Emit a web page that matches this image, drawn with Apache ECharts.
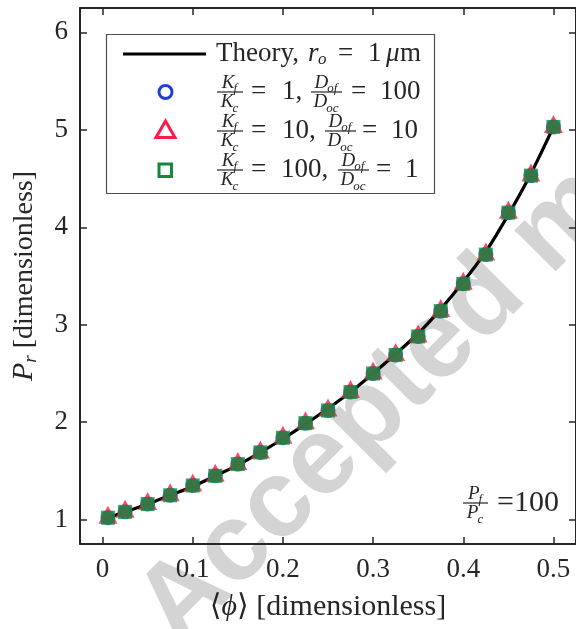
<!DOCTYPE html>
<html>
<head>
<meta charset="utf-8">
<script src="https://cdn.jsdelivr.net/npm/echarts@6/dist/echarts.min.js"></script>
<style>
  html, body { margin: 0; padding: 0; background: #fff; }
  #chart { width: 576px; height: 629px; }
</style>
</head>
<body>
<div id="chart"></div>
<script>
// simulation points (same phi for all three cases)
const phiSim = [0.006, 0.025, 0.05, 0.075, 0.1, 0.125, 0.15, 0.175, 0.2, 0.225, 0.25,
  0.275, 0.3, 0.325, 0.35, 0.375, 0.4, 0.425, 0.45, 0.475, 0.5]
const prK1 = [1.02, 1.08, 1.16, 1.25, 1.35, 1.45, 1.57, 1.69, 1.84, 1.99, 2.12,
  2.31, 2.50, 2.69, 2.88, 3.14, 3.42, 3.72, 4.15, 4.53, 5.03]
const prK10 = [1.02, 1.08, 1.16, 1.25, 1.35, 1.45, 1.57, 1.69, 1.84, 1.99, 2.12,
  2.31, 2.50, 2.69, 2.88, 3.14, 3.42, 3.72, 4.15, 4.53, 5.03]
const prK100 = [1.02, 1.08, 1.16, 1.25, 1.35, 1.45, 1.57, 1.69, 1.84, 1.99, 2.12,
  2.31, 2.50, 2.69, 2.88, 3.14, 3.42, 3.72, 4.15, 4.53, 5.03]

// theory curve
const phiTheory = [0, 0.025, 0.05, 0.075, 0.1, 0.125, 0.15, 0.175, 0.2, 0.225, 0.25,
  0.275, 0.3, 0.325, 0.35, 0.375, 0.4, 0.425, 0.45, 0.475, 0.5]
const prTheory = [1.0, 1.08, 1.16, 1.25, 1.34, 1.45, 1.56, 1.69, 1.83, 1.98, 2.14,
  2.31, 2.50, 2.70, 2.91, 3.16, 3.44, 3.75, 4.13, 4.55, 5.03]

const xTicks = [0, 0.1, 0.2, 0.3, 0.4, 0.5]
const yTicks = [1, 2, 3, 4, 5, 6]

const SERIF = '"Liberation Serif", "DejaVu Serif", serif'
const INK = '#262626'
const BLUE = '#1f3fd6'
const RED = '#ff1a4a'
const GREEN = '#128a3c'

const zip = (xs, ys) => xs.map((x, i) => [x, ys[i]])

// text helpers for the legend / annotation (math-like text)
const mctx = document.createElement('canvas').getContext('2d')
const fontOf = (size, it) => (it ? 'italic ' : '') + size + 'px ' + SERIF
const measure = (t, size, it) => { mctx.font = fontOf(size, it); return mctx.measureText(t).width }

function txt(x, y, t, size, it) {
  return {
    type: 'text', x, y, z: 20,
    style: { text: t, font: fontOf(size, it), fill: INK, textAlign: 'left', textVerticalAlign: 'middle' }
  }
}

// letter + subscript, centred on cx
function withSub(cx, cy, main, sub, size) {
  const subSize = Math.round(size * 0.68)
  const w1 = measure(main, size, true)
  const w2 = measure(sub, subSize, true)
  const x0 = cx - (w1 + w2) / 2
  return [txt(x0, cy, main, size, true), txt(x0 + w1 - 1, cy + size * 0.3, sub, subSize, true)]
}

function frac(x, cy, w, num, numSub, den, denSub, size) {
  const cx = x + w / 2
  return [
    ...withSub(cx, cy - size * 0.5, num, numSub, size),
    { type: 'line', z: 20, shape: { x1: x, y1: cy, x2: x + w, y2: cy }, style: { stroke: INK, lineWidth: 1.2 } },
    ...withSub(cx, cy + size * 0.55, den, denSub, size)
  ]
}

const FS = 27   // legend text size
const FF = 19   // fraction text size

const legendEls = [
  { type: 'rect', z: 15, shape: { x: 106.5, y: 34.5, width: 328, height: 159 },
    style: { fill: '#fff', stroke: '#4d4d4d', lineWidth: 1.2 } },
  { type: 'line', z: 20, shape: { x1: 123, y1: 54, x2: 206, y2: 54 }, style: { stroke: '#000', lineWidth: 3 } },
  { type: 'circle', z: 20, shape: { cx: 165.5, cy: 92, r: 6.5 }, style: { fill: '#fff', stroke: BLUE, lineWidth: 3 } },
  { type: 'polygon', z: 20, shape: { points: [[165.5, 121], [175, 137.5], [156, 137.5]] },
    style: { fill: '#fff', stroke: RED, lineWidth: 3 } },
  { type: 'rect', z: 20, shape: { x: 159, y: 164, width: 12.5, height: 12.5 }, style: { fill: '#fff', stroke: GREEN, lineWidth: 3 } },

  // row 1: Theory, r_o = 1 μm
  txt(216, 54, 'Theory,', FS, false),
  txt(308, 54, 'r', FS, true),
  txt(318, 60, 'o', 17, true),
  txt(338, 54, '=', FS, false),
  txt(368, 54, '1', FS, false),
  txt(386, 54, 'μ', FS, true),
  txt(400, 54, 'm', FS, false),

  // row 2
  ...frac(217, 92, 26, 'K', 'f', 'K', 'c', FF),
  txt(251, 92, '=', FS, false),
  txt(282, 92, '1,', FS, false),
  ...frac(311, 92, 31, 'D', 'of', 'D', 'oc', FF),
  txt(351, 92, '=', FS, false),
  txt(380, 92, '100', FS, false),

  // row 3
  ...frac(217, 131, 26, 'K', 'f', 'K', 'c', FF),
  txt(251, 131, '=', FS, false),
  txt(282, 131, '10,', FS, false),
  ...frac(325, 131, 31, 'D', 'of', 'D', 'oc', FF),
  txt(362, 131, '=', FS, false),
  txt(391, 131, '10', FS, false),

  // row 4
  ...frac(217, 170, 26, 'K', 'f', 'K', 'c', FF),
  txt(251, 170, '=', FS, false),
  txt(281, 170, '100,', FS, false),
  ...frac(338, 170, 31, 'D', 'of', 'D', 'oc', FF),
  txt(376, 170, '=', FS, false),
  txt(405, 170, '1', FS, false),

  // P_f / P_c = 100
  ...frac(463, 503, 25, 'P', 'f', 'P', 'c', FF),
  txt(497, 503, '=100', 30, false)
]

const watermark = {
  type: 'text', x: 196, y: 666, rotation: Math.PI / 4, z: -1, silent: true,
  style: { text: 'Accepted manuscript', font: 'bold 110px "Liberation Sans", Arial, sans-serif',
    fill: '#d4d4d4', textAlign: 'left', textVerticalAlign: 'bottom' }
}

const chart = echarts.init(document.getElementById('chart'))

const tickLabel = {
  fontFamily: SERIF, fontSize: 27, color: INK
}
const axisLine = { onZero: false, lineStyle: { color: INK, width: 2 } }
const tick = (vals) => ({ inside: true, length: 7, customValues: vals, lineStyle: { color: INK, width: 1.5 } })

chart.setOption({
  animation: false,
  backgroundColor: '#fff',
  grid: { left: 80, right: -4, top: 8, bottom: 85 },
  xAxis: [
    {
      type: 'value', min: -0.025, max: 0.525, position: 'bottom',
      axisLine, axisTick: tick(xTicks), splitLine: { show: false },
      axisLabel: { ...tickLabel, margin: 12, customValues: xTicks, formatter: v => String(+v.toFixed(1)) },
      name: '{b|⟨}{i|ϕ}{b|⟩ [dimensionless]}',
      nameLocation: 'middle', nameGap: 48,
      nameTextStyle: {
        rich: {
          b: { fontFamily: SERIF, fontSize: 30, color: INK },
          i: { fontFamily: SERIF, fontSize: 30, fontStyle: 'italic', color: INK }
        }
      }
    },
    {
      type: 'value', min: -0.025, max: 0.525, position: 'top',
      axisLine, axisTick: tick(xTicks), axisLabel: { show: false }, splitLine: { show: false }
    }
  ],
  yAxis: [
    {
      type: 'value', min: 0.75, max: 6.25, position: 'left',
      axisLine, axisTick: tick(yTicks), splitLine: { show: false },
      axisLabel: { ...tickLabel, margin: 12, customValues: yTicks, formatter: v => String(v) },
      name: '{i|P}{s|r}{b| [dimensionless]}',
      nameLocation: 'middle', nameGap: 40,
      nameTextStyle: {
        rich: {
          b: { fontFamily: SERIF, fontSize: 28, color: INK },
          i: { fontFamily: SERIF, fontSize: 30, fontStyle: 'italic', color: INK },
          s: { fontFamily: SERIF, fontSize: 19, fontStyle: 'italic', color: INK, padding: [12, 0, 0, 0] }
        }
      }
    },
    {
      type: 'value', min: 0.75, max: 6.25, position: 'right',
      axisLine, axisTick: tick(yTicks), axisLabel: { show: false }, splitLine: { show: false }
    }
  ],
  graphic: [watermark, ...legendEls],
  series: [
    {
      name: 'Theory', type: 'line', data: zip(phiTheory, prTheory), smooth: 0.3,
      showSymbol: false, z: 2,
      lineStyle: { color: '#000', width: 3.2 }
    },
    {
      name: 'K1', type: 'scatter', data: zip(phiSim, prK1), z: 3,
      symbol: 'circle', symbolSize: 15,
      itemStyle: { color: BLUE }
    },
    {
      name: 'K10', type: 'scatter', data: zip(phiSim, prK10), z: 4,
      symbol: 'triangle', symbolSize: [19, 18], symbolOffset: [0, -3],
      itemStyle: { color: RED }
    },
    {
      name: 'K100', type: 'scatter', data: zip(phiSim, prK100), z: 5,
      symbol: 'rect', symbolSize: 14,
      itemStyle: { color: GREEN }
    }
  ]
})
</script>
</body>
</html>
